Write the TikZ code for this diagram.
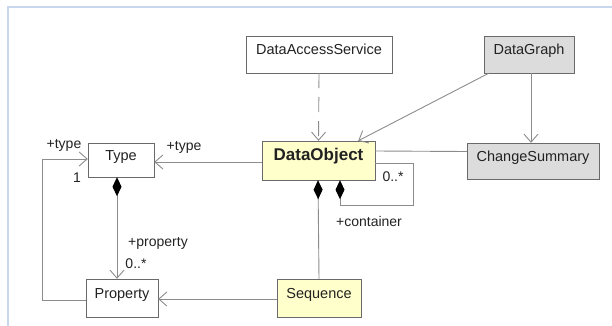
\documentclass[tikz,border=0pt]{standalone}
\usepackage{fontspec}
\setmainfont{Liberation Sans}
\usetikzlibrary{arrows.meta}

\definecolor{frameblue}{HTML}{C8D7EB}
\definecolor{boxline}{HTML}{6A6A6A}
\definecolor{linkgray}{HTML}{8C8C8C}
\definecolor{notefill}{HTML}{FFFFCC}
\definecolor{gsfill}{HTML}{DCDCDC}
\definecolor{ink}{HTML}{222222}

\tikzset{
  cls/.style={draw=boxline, fill=white, inner sep=0pt, text=ink,
    font=\fontsize{14.5}{16}\selectfont, text height=8pt, text depth=8pt},
  hot/.style={cls, fill=notefill},
  grey/.style={cls, fill=gsfill},
  link/.style={draw=linkgray, line width=0.9pt},
  nav/.style={link, -{Straight Barb[length=8pt,width=14pt]}},
  comp/.style={link, {Diamond[length=19pt,width=9pt,fill=black,color=black]}-},
  compnav/.style={link, {Diamond[length=19pt,width=9pt,fill=black,color=black]}-{Straight Barb[length=8pt,width=14pt]}},
  role/.style={text=ink, inner sep=0pt, font=\fontsize{14}{16}\selectfont}
}

\begin{document}
\begin{tikzpicture}[x=1pt,y=-1pt]
        \useasboundingbox (0,0) rectangle (612,326);
        \draw[frameblue, line width=1.2pt] (612,7) -- (8,7) -- (8,326);

        \node[cls, minimum width=146pt, minimum height=37pt] (das) at (319,54.5) {DataAccessService};
        \node[grey, minimum width=90pt, minimum height=37pt] (dgraph) at (529,54.5) {DataGraph};
        \node[cls, minimum width=66pt, minimum height=34pt] (type) at (121,160) {Type};
        \node[hot, minimum width=113pt, minimum height=39pt, font=\fontsize{17}{19}\selectfont\bfseries] (dobj) at (318.5,160.5) {DataObject};
        \node[grey, minimum width=132pt, minimum height=36pt] (csum) at (533,161) {ChangeSummary};
        \node[cls, minimum width=72pt, minimum height=38pt] (prop) at (122,298) {Property};
        \node[hot, minimum width=84pt, minimum height=38pt] (seq) at (319,298) {Sequence};

        \draw[nav, dash pattern=on 15pt off 9pt] (das.south) -- (dobj.north);
        \draw[nav] ([xshift=5pt]dgraph.south west) -- ([xshift=-17pt]dobj.north east);
        \draw[nav] ([xshift=2pt]dgraph.south) -- ([xshift=-2pt]csum.north);
        \draw[link] ([yshift=9.5pt]dobj.east) -- ([yshift=9.5pt]csum.west);
        \draw[nav] ([yshift=-1.5pt]dobj.west) -- ([yshift=-2pt]type.east);
        \draw[compnav] ([xshift=-4pt]type.south) -- ([xshift=-5pt]prop.north);
        \draw[nav] ([yshift=-2pt]prop.west) -- ++(-43,0) |- ([yshift=1pt]type.west);
        \draw[nav] ([yshift=-1pt]seq.west) -- ([yshift=-1pt]prop.east);
        \draw[comp] ([xshift=-0.5pt]dobj.south) -- (seq.north);
        \draw[comp] ([xshift=21.5pt]dobj.south) -- ++(0,25) -- ++(73,0) |- ([yshift=-2.5pt]dobj.east);

        \node[role] (t1) at (184,147) {+type};
        \node[role] (t2) at (64,145) {+type};
        \node[role] (m1) at (77,178) {1};
        \node[role] (pr) at (158,243) {+property};
        \node[role] (m2) at (136,264) {0..*};
        \node[role] (m3) at (393,177) {0..*};
        \node[role] (ct) at (369,221) {+container};
    \end{tikzpicture}
\end{document}
